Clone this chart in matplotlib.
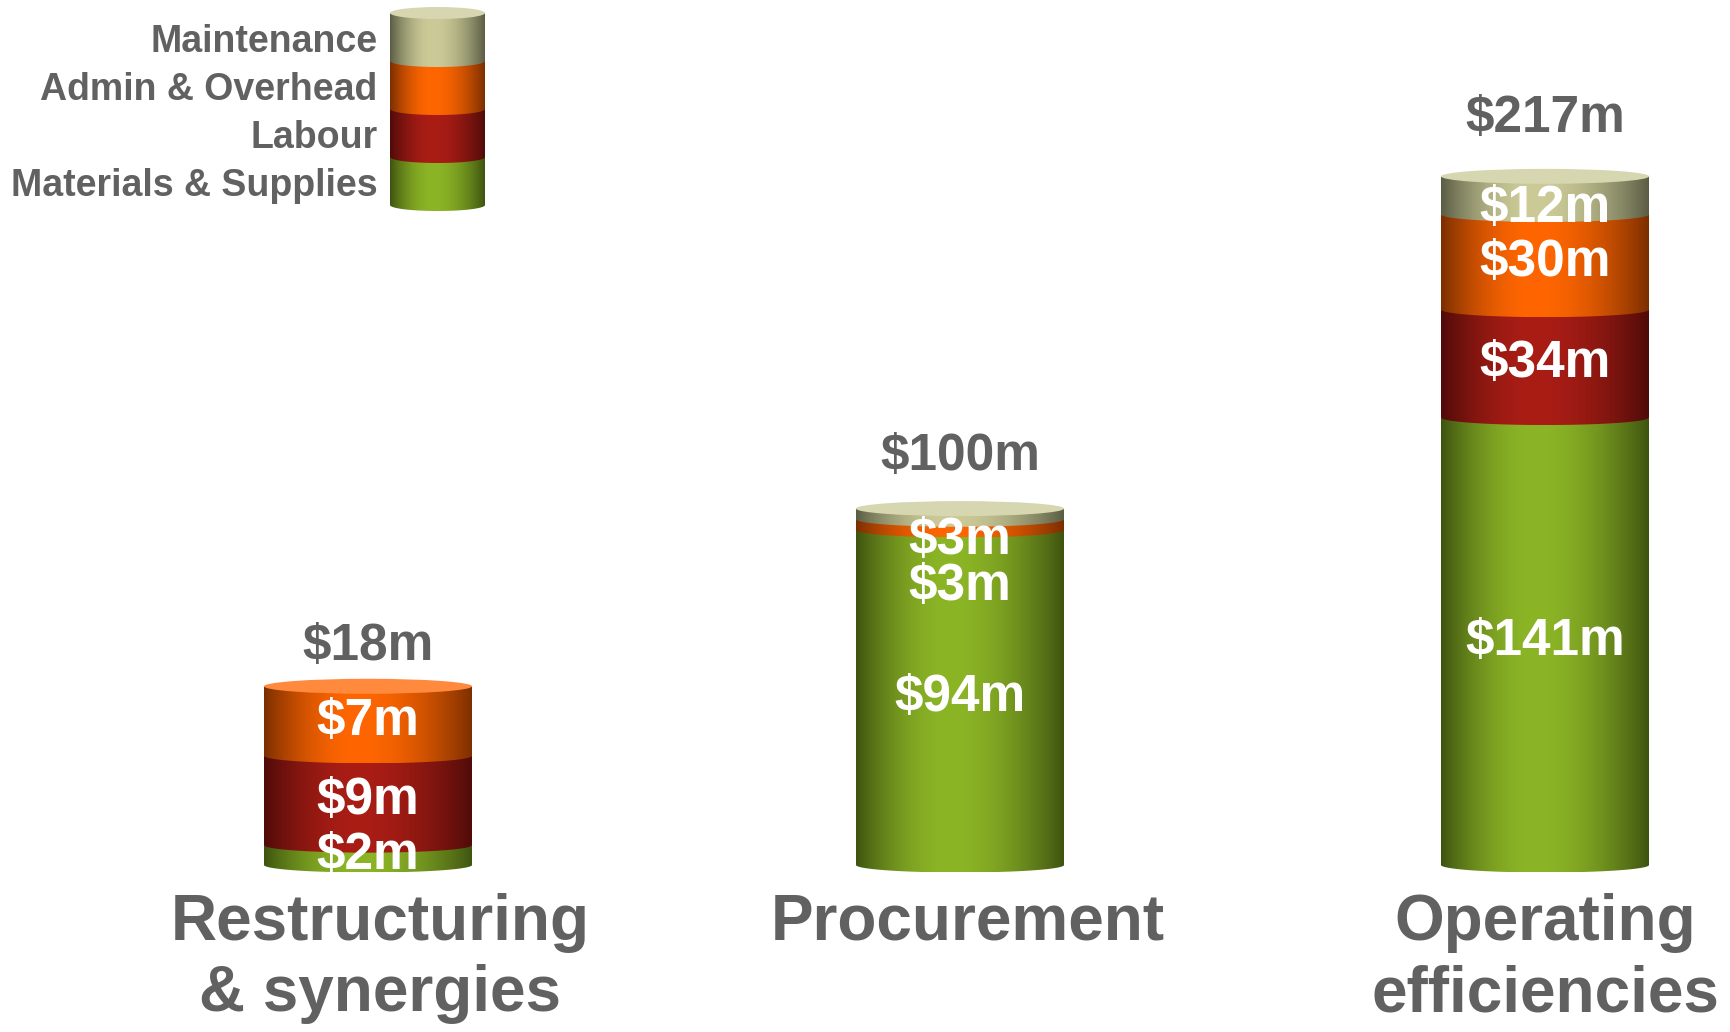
import numpy as np
import matplotlib
matplotlib.use('Agg')
import matplotlib.pyplot as plt
from matplotlib.patches import Polygon, Ellipse
from matplotlib.colors import to_rgb

plt.rcParams['font.family'] = ['Liberation Sans', 'DejaVu Sans']

# savings by programme, $m, stacked bottom to top
categories = ['Restructuring\n& synergies', 'Procurement', 'Operating\nefficiencies']
series = ['Materials & Supplies', 'Labour', 'Admin & Overhead', 'Maintenance']
materials = [2, 94, 141]
labour = [9, 0, 34]
admin = [7, 3, 30]
maintenance = [0, 3, 12]
values = [materials, labour, admin, maintenance]

# side colour (bright middle, dark edges) and top-cap colour per series
light = ['#8cb526', '#a91d15', '#ff6600', '#cccb98']
dark = ['#3e5310', '#4f0b09', '#7a2e00', '#5a5c44']
caps = ['#a9cc52', '#c54030', '#ff8a3d', '#d6d6b1']

GREY = '#616161'
W, H = 1730, 1032
bar_centers = [368, 960, 1545]
label_x = [380, 968, 1545]
total_offset = [19, 28, 32]
bar_w = 208
baseline = 865
plot_top = 170
y_max = [70, 195, 219]
ax_w = 260
margin = 20


def shade(c_light, c_dark, n=256, peak=0.45):
    t = np.linspace(0, 1, n)
    d = np.where(t < peak, (peak - t) / peak, (t - peak) / (1 - peak))
    w = np.cos(d * np.pi / 2) ** 0.9
    lo, hi = np.array(to_rgb(c_dark)), np.array(to_rgb(c_light))
    return (lo + (hi - lo) * w[:, None])[None, :, :]


def segment_outline(hw, y0, y1, ry, n=80):
    th = np.linspace(np.pi, 2 * np.pi, n)
    arc = np.column_stack([hw * np.cos(th), y0 + ry * np.sin(th)])
    return np.vstack([arc, [[hw, y1], [-hw, y1]]])


def draw_cylinder(ax, stack, idx, hw, ry):
    bottom = 0
    z = 2
    top_idx = None
    for v, k in zip(stack, idx):
        if v == 0:
            continue
        poly = Polygon(segment_outline(hw, bottom, bottom + v, ry), closed=True,
                       fill=False, lw=0)
        ax.add_patch(poly)
        im = ax.imshow(shade(light[k], dark[k]), extent=(-hw, hw, bottom - ry, bottom + v),
                       aspect='auto', interpolation='bilinear', zorder=z)
        im.set_clip_path(poly)
        bottom += v
        z += 1
        top_idx = k
    ax.add_patch(Ellipse((0, bottom), 2 * hw, 2 * ry, facecolor=caps[top_idx],
                         edgecolor='none', zorder=z, clip_on=False))
    return bottom


def spread(mids, gap, ceiling):
    # keep labels off the lid and at least `gap` apart, working downwards
    out = list(mids)
    out[-1] = min(out[-1], ceiling)
    for k in range(len(out) - 2, -1, -1):
        if out[k + 1] - out[k] < gap:
            out[k] = out[k + 1] - gap
    return out


fig = plt.figure(figsize=(W / 100, H / 100), dpi=100)

for i in range(len(categories)):
    span = baseline - plot_top
    upp = y_max[i] / span
    ax = fig.add_axes([(bar_centers[i] - ax_w / 2) / W, (H - baseline - margin) / H,
                       ax_w / W, (span + 2 * margin) / H])
    ax.set_xlim(-0.5, 0.5)
    ax.set_ylim(-margin * upp, y_max[i] + margin * upp)
    ax.axis('off')

    stack = [s[i] for s in values]
    total = draw_cylinder(ax, stack, range(len(series)), bar_w / ax_w / 2, 7.5 * upp)

    # white value labels, pushed apart where segments are thin
    mids, texts = [], []
    pos = 0
    for v in stack:
        if v == 0:
            continue
        mids.append(pos + v / 2)
        texts.append(f'${v}m')
        pos += v
    for y, t in zip(spread(mids, 46 * upp, total - 32 * upp), texts):
        ax.text(0, y, t, ha='center', va='center', fontsize=37, fontweight='bold',
                color='white', zorder=20)

    ax.annotate(f'${total}m', xy=(0, total), xytext=(0, total_offset[i]),
                textcoords='offset points', ha='center', va='baseline',
                fontsize=37, fontweight='bold', color=GREY)

    fig.text(label_x[i] / W, 1 - 893 / H, categories[i], ha='center', va='top',
             fontsize=46, fontweight='bold', color=GREY, linespacing=1.24)

# legend drawn as a small cylinder with one band per series
lg_top, lg_bot, lg_cx, lg_w = 13, 205, 437.5, 95
lg_ax_w = 120
lupp = len(series) / (lg_bot - lg_top)
lax = fig.add_axes([(lg_cx - lg_ax_w / 2) / W, (H - lg_bot - 10) / H,
                    lg_ax_w / W, (lg_bot - lg_top + 20) / H])
lax.set_xlim(-0.5, 0.5)
lax.set_ylim(-10 * lupp, len(series) + 10 * lupp)
lax.axis('off')
draw_cylinder(lax, [1] * len(series), range(len(series)), lg_w / lg_ax_w / 2, 6 * lupp)
for k, name in enumerate(series):
    lax.text(-0.5, k + 0.5 - 5.5 * lupp, name, ha='right', va='center', fontsize=27,
             fontweight='bold', color=GREY)

fig.savefig('out.png', dpi=100, facecolor='white')
